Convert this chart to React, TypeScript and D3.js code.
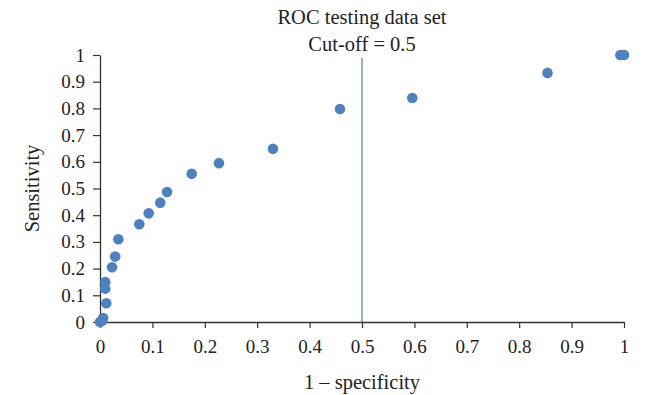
import * as d3 from 'd3';
import { useEffect, useRef } from 'react';

const W = 645;
const H = 395;

// 1 - specificity / sensitivity pairs
const fpr = [0, 0.004, 0.006, 0.012, 0.01, 0.01, 0.023, 0.029, 0.035, 0.075, 0.093, 0.115, 0.128, 0.175, 0.227, 0.33, 0.458, 0.596, 0.854, 0.993, 1];
const tpr = [0, 0.005, 0.015, 0.07, 0.125, 0.15, 0.205, 0.245, 0.31, 0.366, 0.407, 0.447, 0.487, 0.555, 0.595, 0.649, 0.798, 0.839, 0.933, 1, 1];
const cutOff = 0.5;
const ticks = [0, 0.1, 0.2, 0.3, 0.4, 0.5, 0.6, 0.7, 0.8, 0.9, 1];
const titleLines = ['ROC testing data set', 'Cut-off = 0.5'];

const FONT = '"Liberation Serif", "DejaVu Serif", serif';
const BLUE = '#4f81bd';

export default function App() {
    const svgRef = useRef<SVGSVGElement>(null);

    useEffect(() => {
        if (!svgRef.current) return;
        const svg = d3.select(svgRef.current);
        svg.selectAll('*').remove();

        const margin = { top: 55, right: 21, bottom: 73, left: 100 };
        const innerW = W - margin.left - margin.right;
        const innerH = H - margin.top - margin.bottom;

        const x = d3.scaleLinear().domain([0, 1]).range([0, innerW]);
        const y = d3.scaleLinear().domain([0, 1]).range([innerH, 0]);

        svg.append('rect').attr('width', W).attr('height', H).attr('fill', '#fff');

        const g = svg.append('g').attr('transform', `translate(${margin.left},${margin.top})`);

        // cut-off line
        g.append('line')
            .attr('x1', x(cutOff))
            .attr('x2', x(cutOff))
            .attr('y1', y(0))
            .attr('y2', y(0.99))
            .attr('stroke', BLUE)
            .attr('stroke-width', 1.2);

        const xAxis = g
            .append('g')
            .attr('transform', `translate(0,${innerH})`)
            .call(d3.axisBottom(x).tickValues(ticks).tickFormat(d3.format('')).tickSize(6).tickSizeOuter(0));
        const yAxis = g
            .append('g')
            .call(d3.axisLeft(y).tickValues(ticks).tickFormat(d3.format('')).tickSize(7).tickSizeOuter(0));

        [xAxis, yAxis].forEach((a) => {
            a.select('.domain').attr('stroke', '#333').attr('stroke-width', 1.3);
            a.selectAll('.tick line').attr('stroke', '#333').attr('stroke-width', 1.2);
            a.selectAll('text')
                .attr('font-family', FONT)
                .attr('font-size', '19px')
                .attr('fill', '#222');
        });
        xAxis.selectAll('text').attr('dy', '1.15em');
        yAxis.selectAll('text').attr('x', -15);

        const pts = fpr.map((v, i) => ({ fx: v, ty: tpr[i] }));
        g.selectAll('circle.pt')
            .data(pts)
            .enter()
            .append('circle')
            .attr('class', 'pt')
            .attr('cx', (d) => x(d.fx))
            .attr('cy', (d) => y(d.ty))
            .attr('r', 5.3)
            .attr('fill', BLUE);

        // titles
        titleLines.forEach((t, i) => {
            svg.append('text')
                .attr('x', margin.left + innerW / 2)
                .attr('y', 24 + i * 27)
                .attr('text-anchor', 'middle')
                .attr('font-family', FONT)
                .attr('font-size', '20.5px')
                .attr('fill', '#222')
                .text(t);
        });

        svg.append('text')
            .attr('x', margin.left + innerW / 2)
            .attr('y', 389)
            .attr('text-anchor', 'middle')
            .attr('font-family', FONT)
            .attr('font-size', '20.5px')
            .attr('fill', '#222')
            .text('1 – specificity');

        svg.append('text')
            .attr('transform', `translate(39,${margin.top + innerH / 2}) rotate(-90)`)
            .attr('text-anchor', 'middle')
            .attr('font-family', FONT)
            .attr('font-size', '20.5px')
            .attr('fill', '#222')
            .text('Sensitivity');
    }, []);

    return (
        <div style={{ position: 'absolute', left: 0, top: 0 }}>
            <svg ref={svgRef} width={W} height={H} style={{ display: 'block' }} />
        </div>
    );
}
